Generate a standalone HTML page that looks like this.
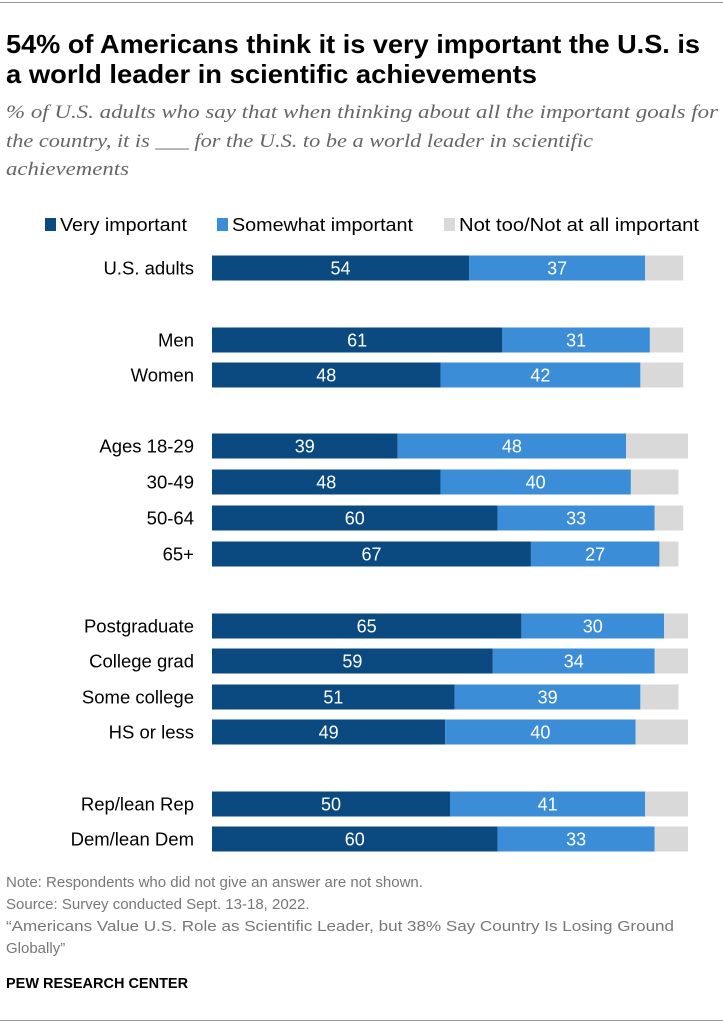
<!DOCTYPE html>
<html><head><meta charset="utf-8"><style>
body{margin:0;background:#fff;width:723px;height:1023px;overflow:hidden;font-family:"Liberation Sans",sans-serif;position:relative}
.hr{position:absolute;left:0;width:723px;height:1px;background:#999}
</style></head><body>
<div class="hr" style="top:2px"></div>
<svg id="c" width="723" height="1023" style="position:absolute;left:0;top:0">
<g font-family="Liberation Sans, sans-serif" font-weight="bold" font-size="26" fill="#000">
<text x="6" y="53" textLength="694" lengthAdjust="spacingAndGlyphs">54% of Americans think it is very important the U.S. is</text>
<text x="6" y="83" textLength="531" lengthAdjust="spacingAndGlyphs">a world leader in scientific achievements</text>
</g>
<g font-family="Liberation Serif, serif" font-style="italic" font-size="19" fill="#666">
<text x="6" y="118" textLength="712" lengthAdjust="spacingAndGlyphs">% of U.S. adults who say that when thinking about all the important goals for</text>
<text x="6" y="147" textLength="587" lengthAdjust="spacingAndGlyphs">the country, it is ___ for the U.S. to be a world leader in scientific</text>
<text x="6" y="175" textLength="123" lengthAdjust="spacingAndGlyphs">achievements</text>
</g>
<g font-family="Liberation Sans, sans-serif" font-size="15" fill="#777">
<text x="6" y="887">Note: Respondents who did not give an answer are not shown.</text>
<text x="6" y="909">Source: Survey conducted Sept. 13-18, 2022.</text>
<g>
<text x="6" y="931" textLength="668" lengthAdjust="spacingAndGlyphs">“Americans Value U.S. Role as Scientific Leader, but 38% Say Country Is Losing Ground</text>
<text x="6" y="953">Globally”</text>
</g>
</g>
<text x="6" y="988" font-family="Liberation Sans, sans-serif" font-size="14.5" font-weight="bold" fill="#000">PEW RESEARCH CENTER</text>
</svg>
<div class="hr" style="top:1020px"></div>
<script>
const categories=["U.S. adults","Men","Women","Ages 18-29","30-49","50-64","65+","Postgraduate","College grad","Some college","HS or less","Rep/lean Rep","Dem/lean Dem"];
const veryImportant=[54,61,48,39,48,60,67,65,59,51,49,50,60];
const somewhatImportant=[37,31,42,48,40,33,27,30,34,39,40,41,33];
const notImportant=[8,7,9,13,10,6,4,5,7,8,11,9,7];
const rowY=[268,340,375,446,482,518,554,626,661,697,732,804,839];
const legendLabels=["Very important","Somewhat important","Not too/Not at all important"];
const colors=["#0b4a80","#3c8dd8","#d9d9d9"];
const NS="http://www.w3.org/2000/svg",svg=document.getElementById('c');
const x0=212,ppu=4.76,bh=25;
const xs=v=>x0+v*ppu;
function mk(t,a){const e=document.createElementNS(NS,t);for(const k in a)e.setAttribute(k,a[k]);svg.appendChild(e);return e;}
const lx=[45,217,444],lw=[127,181,240];
legendLabels.forEach((l,i)=>{
 const r=mk('rect',{x:lx[i],y:218,width:11,height:13,fill:colors[i]});
 
 
 const t=mk('text',{x:lx[i]+15,y:231,'font-size':18,fill:'#000','font-family':'Liberation Sans, sans-serif',textLength:lw[i],lengthAdjust:'spacingAndGlyphs'});t.textContent=l;
 
 
});
categories.forEach((c,i)=>{
 const y=rowY[i]-bh/2;
 const lab=mk('text',{x:194,y:rowY[i]+6.5,'font-size':18.5,'text-anchor':'end',fill:'#000','font-family':'Liberation Sans, sans-serif'});lab.textContent=c;
 
 
 const vals=[veryImportant[i],somewhatImportant[i],notImportant[i]];
 let acc=0;
 vals.forEach((v,j)=>{
  const r=mk('rect',{x:xs(acc),y:y,width:v*ppu,height:bh,fill:colors[j]});
  
  
  if(j<2){const t=mk('text',{x:xs(acc+v/2),y:rowY[i]+6.5,'font-size':18,'text-anchor':'middle',fill:'#fff','font-family':'Liberation Sans, sans-serif'});t.textContent=v;
   
   }
  acc+=v;
 });
});
</script>
</body></html>
